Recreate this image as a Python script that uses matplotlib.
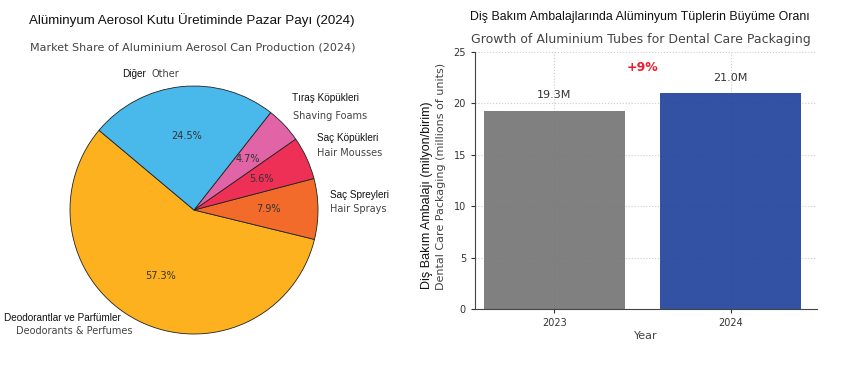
import matplotlib
matplotlib.use("Agg")
import matplotlib.pyplot as plt
import numpy as np

# ---- data ----
pie_labels_tr = ["Deodorantlar ve Parfümler", "Saç Spreyleri", "Saç Köpükleri", "Tıraş Köpükleri", "Diğer"]
pie_labels_en = ["Deodorants & Perfumes", "Hair Sprays", "Hair Mousses", "Shaving Foams", "Other"]
pie_shares = [57.3, 7.9, 5.6, 4.7, 24.5]
pie_colors = ["#FDB11E", "#F26B2B", "#EE2F56", "#E064A6", "#48B9EA"]

years = ["2023", "2024"]
units_millions = [19.3, 21.0]
bar_colors = ["#757575", "#22439C"]
growth_label = "+9%"

W, H = 850, 367
fig = plt.figure(figsize=(W / 100, H / 100), dpi=100)

TR = "Liberation Sans"
EN = "DejaVu Sans"

# ---- pie ----
cx, cy, r = 194, 210, 124
half = 1.25 * r
ax1 = fig.add_axes([(cx - half) / W, (H - cy - half) / H, 2 * half / W, 2 * half / H])
wedges, texts, autotexts = ax1.pie(
    pie_shares, colors=pie_colors, startangle=140, autopct="%1.1f%%",
    pctdistance=0.6, wedgeprops=dict(edgecolor="#222222", linewidth=0.6),
    textprops=dict(fontsize=7, color="#333333", family=EN))
ax1.set_xlim(-1.25, 1.25)
ax1.set_ylim(-1.25, 1.25)
ax1.set_aspect("equal")

def px(x, y):
    return ((x - cx) / r, (cy - y) / r)

TRS = 7.2
ENS = 7
# label layout (pixel anchors: turkish, english)
label_pos = {
    1: ((330, 195), (330, 209)),
    2: ((317, 138), (317, 153)),
    3: ((292, 98), (293, 116)),
}
for i, ((tx, ty), (ex, ey)) in label_pos.items():
    ax1.text(*px(tx, ty), pie_labels_tr[i], family=TR, fontsize=TRS, color="#111111",
             ha="left", va="center")
    ax1.text(*px(ex, ey), pie_labels_en[i], family=EN, fontsize=ENS, color="#444444",
             ha="left", va="center")
# Other (single line)
ax1.text(*px(122, 74), pie_labels_tr[4], family=TR, fontsize=TRS, color="#111111",
         ha="left", va="center")
ax1.text(*px(152, 74), pie_labels_en[4], family=EN, fontsize=ENS, color="#444444",
         ha="left", va="center")
# Deodorants
ax1.text(*px(4, 318), pie_labels_tr[0], family=TR, fontsize=TRS, color="#111111",
         ha="left", va="center")
ax1.text(*px(16, 331), pie_labels_en[0], family=EN, fontsize=ENS, color="#444444",
         ha="left", va="center")

fig.text(192 / W, 1 - 20 / H, "Alüminyum Aerosol Kutu Üretiminde Pazar Payı (2024)",
         family=TR, fontsize=9.6, color="#111111", ha="center", va="center")
fig.text(193 / W, 1 - 47 / H, "Market Share of Aluminium Aerosol Can Production (2024)",
         family=EN, fontsize=8.0, color="#444444", ha="center", va="center")

# ---- bars ----
ax2 = fig.add_axes([475 / W, (H - 309) / H, (817 - 475) / W, (309 - 52) / H])
x = np.arange(len(years))
bars = ax2.bar(x, units_millions, width=0.8, color=bar_colors, alpha=0.92, zorder=2)
ax2.set_xticks(x)
ax2.set_xticklabels(years)
ax2.set_ylim(0, 25)
ax2.set_yticks(np.arange(0, 26, 5))
ax2.set_xlim(-0.45, 1.49)
ax2.grid(True, linestyle=":", color="#cccccc", linewidth=0.8, zorder=0)
ax2.set_axisbelow(True)
for s in ["top", "right"]:
    ax2.spines[s].set_visible(False)
for s in ["left", "bottom"]:
    ax2.spines[s].set_color("#444444")
ax2.tick_params(labelsize=7, colors="#333333", length=3)
ax2.set_xlabel("Year", fontsize=8, color="#444444", labelpad=2)
for xi, v in zip(x, units_millions):
    ax2.text(xi, v + 1.0, f"{v:.1f}M", ha="center", va="bottom", fontsize=8, color="#333333")
ax2.text(0.5, 23.5, growth_label, ha="center", va="center", fontsize=9,
         fontweight="bold", color="#E8202E")

fig.text(640 / W, 1 - 17 / H, "Diş Bakım Ambalajlarında Alüminyum Tüplerin Büyüme Oranı",
         family=TR, fontsize=8.9, color="#111111", ha="center", va="center")
fig.text(641 / W, 1 - 40 / H, "Growth of Aluminium Tubes for Dental Care Packaging",
         family=EN, fontsize=9, color="#444444", ha="center", va="center")
fig.text(427 / W, 1 - 289 / H, "Diş Bakım Ambalajı (milyon/birim)", family=TR, fontsize=9,
         color="#111111", rotation=90, ha="center", va="bottom")
fig.text(441 / W, 1 - 290 / H, "Dental Care Packaging (millions of units)", family=EN,
         fontsize=8, color="#444444", rotation=90, ha="center", va="bottom")

fig.savefig("out.png", dpi=100)
